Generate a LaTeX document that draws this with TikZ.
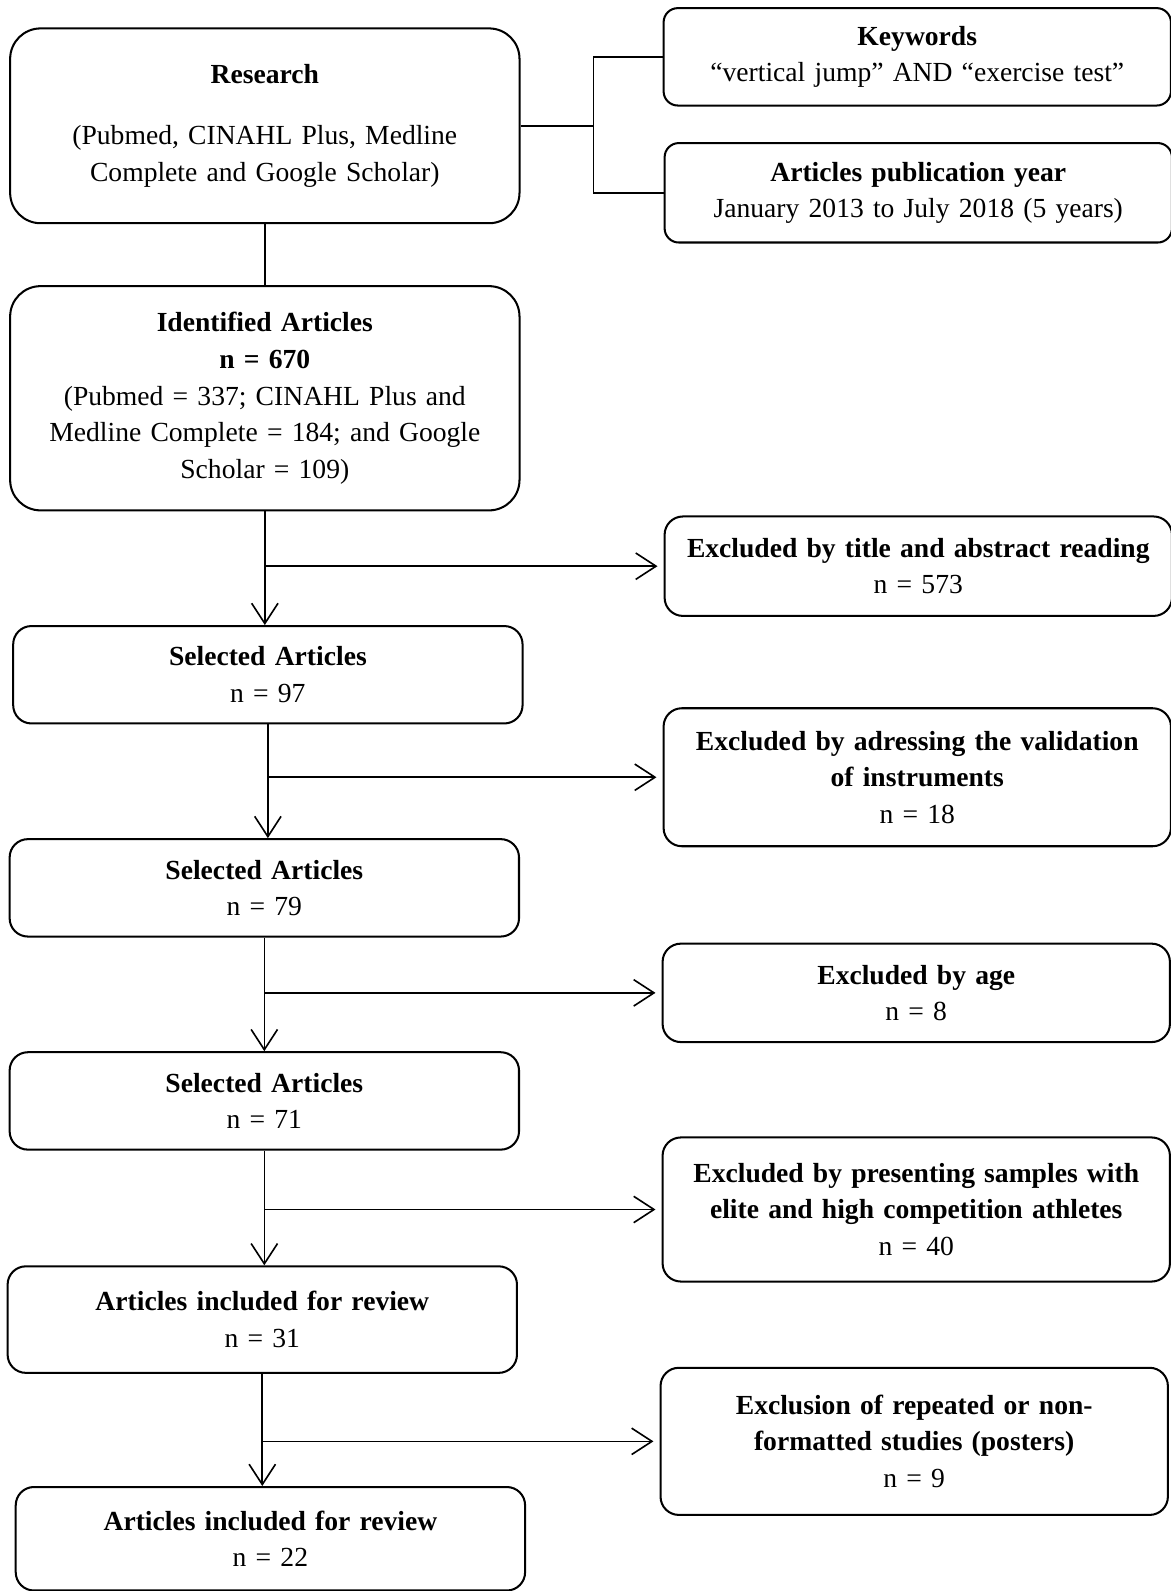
\documentclass[tikz,border=0pt]{standalone}
\usepackage{fontspec}
\setmainfont{Liberation Serif}
\usetikzlibrary{arrows.meta}
\tikzset{box/.style={draw, line width=1pt, rounded corners=9pt, align=center,
    inner sep=2pt, font=\fontsize{13.6}{18}\selectfont},
  leftbox/.style={box, minimum width=251pt, text width=240pt},
  rightbox/.style={box, minimum width=250pt, text width=240pt},
  link/.style={line width=0.8pt},
  arr/.style={link, -{Straight Barb[length=10pt,width=13pt]}}}

\begin{document}
\begin{tikzpicture}[x=0.5pt, y=-0.5pt]
    \useasboundingbox (0,0) rectangle (1154,1568);

    \node [leftbox, minimum height=96pt, rounded corners=15pt] (research) at (261,124)
      {\textbf{Research}\\[12pt](Pubmed, CINAHL Plus, Medline\\Complete and Google Scholar)};
    \node [rightbox, minimum height=48pt, rounded corners=7pt] (kw) at (904,56)
      {\textbf{Keywords}\\“vertical jump” AND “exercise test”};
    \node [rightbox, minimum height=49pt, rounded corners=7pt] (pub) at (905,190)
      {\textbf{Articles publication year}\\January 2013 to July 2018 (5 years)};
    \coordinate (split) at (585,124);

    \node [leftbox, minimum height=110.5pt, rounded corners=15pt] (ident) at (261,392.5)
      {\textbf{Identified Articles}\\\textbf{n = 670}\\(Pubmed = 337; CINAHL Plus and\\Medline Complete = 184; and Google\\Scholar = 109)};
    \node [rightbox, minimum height=49pt] (ex1) at (905,558)
      {\textbf{Excluded by title and abstract reading}\\n = 573};
    \node [leftbox, minimum height=48pt] (sel1) at (264,665)
      {\textbf{Selected Articles}\\n = 97};
    \node [rightbox, minimum height=68pt] (ex2) at (904,766)
      {\textbf{Excluded by adressing the validation}\\\textbf{of instruments}\\n = 18};
    \node [leftbox, minimum height=48pt] (sel2) at (260.5,875)
      {\textbf{Selected Articles}\\n = 79};
    \node [rightbox, minimum height=48.5pt] (ex3) at (903,978.5)
      {\textbf{Excluded by age}\\n = 8};
    \node [leftbox, minimum height=48pt] (sel3) at (260.5,1085)
      {\textbf{Selected Articles}\\n = 71};
    \node [rightbox, minimum height=71pt] (ex4) at (903,1192)
      {\textbf{Excluded by presenting samples with}\\\textbf{elite and high competition athletes}\\n = 40};
    \node [leftbox, minimum height=52.5pt] (incl1) at (258.5,1300.5)
      {\textbf{Articles included for review}\\n = 31};
    \node [rightbox, minimum height=72.5pt] (ex5) at (901,1420.5)
      {\textbf{Exclusion of repeated or non-}\\\textbf{formatted studies (posters)}\\n = 9};
    \node [leftbox, minimum height=51pt] (incl2) at (266.5,1516.5)
      {\textbf{Articles included for review}\\n = 22};

    \draw [link] (research.east) -- (split);
    \draw [link] (kw.west) -| (split) |- (pub.west);
    \draw [link] (research.south) -- (research.south |- ident.north);

    \draw [arr] (ident.south) -- (ident.south |- sel1.north);
    \draw [arr] (sel1.south) -- (sel1.south |- sel2.north);
    \draw [arr] (sel2.south) -- (sel2.south |- sel3.north);
    \draw [arr] (sel3.south) -- (sel3.south |- incl1.north);
    \draw [arr] (incl1.south) -- (incl1.south |- incl2.north);

    \draw [arr, shorten >=3pt] (ident.south |- ex1.west) -- (ex1.west);
    \draw [arr, shorten >=3pt] (sel1.south |- ex2.west) -- (ex2.west);
    \draw [arr, shorten >=3pt] (sel2.south |- ex3.west) -- (ex3.west);
    \draw [arr, shorten >=3pt] (sel3.south |- ex4.west) -- (ex4.west);
    \draw [arr, shorten >=3pt] (incl1.south |- ex5.west) -- (ex5.west);
\end{tikzpicture}
\end{document}
